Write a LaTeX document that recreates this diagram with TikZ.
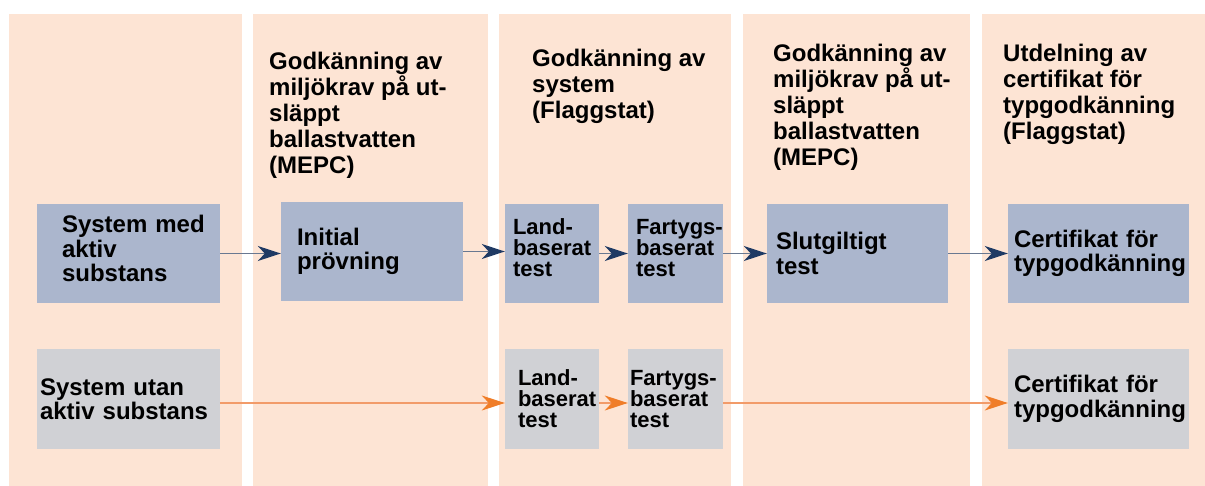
\documentclass[tikz,border=0pt]{standalone}
\usepackage{fontspec}
\setmainfont{Liberation Sans}
\usetikzlibrary{arrows.meta}
\definecolor{peach}{RGB}{253,228,212}
\definecolor{boxblue}{RGB}{171,182,205}
\definecolor{boxgrey}{RGB}{208,209,213}
\definecolor{navy}{RGB}{31,58,100}
\definecolor{navyline}{RGB}{105,120,145}
\definecolor{orangeline}{RGB}{242,155,105}
\definecolor{orangetip}{RGB}{240,125,40}
\begin{document}
\begin{tikzpicture}[x=1pt,y=-1pt,
  lane/.style={fill=peach},
  box/.style={minimum height=99pt,inner ysep=0pt,align=left,
    font=\bfseries\fontsize{24}{24.5}\selectfont},
  smallbox/.style={box,font=\bfseries\fontsize{22}{21}\selectfont},
  head/.style={anchor=north west,inner sep=0pt,align=left,
    font=\bfseries\fontsize{24}{26}\selectfont},
  flowa/.style={draw=navyline,line width=1.2pt,
    -{Stealth[length=23pt,width=15pt,inset=7pt,color=navy]}},
  flowb/.style={draw=orangeline,line width=1.2pt,
    -{Stealth[length=23pt,width=15pt,inset=7pt,color=orangetip]}}]
  \useasboundingbox (0,0) rectangle (1205,486);
  % lanes
  \fill[lane] (9,14) rectangle (242,486);
  \fill[lane] (253,14) rectangle (488,486);
  \fill[lane] (499,14) rectangle (731,486);
  \fill[lane] (743,14) rectangle (970,486);
  \fill[lane] (982,14) rectangle (1205,486);
  % headings
  \node[head] (h2) at (269,51.5) {Godkänning av\\miljökrav på ut-\\släppt\\ballastvatten\\(MEPC)};
  \node[head] (h3) at (532,48.5) {Godkänning av\\system\\(Flaggstat)};
  \node[head] (h4) at (773,43.5) {Godkänning av\\miljökrav på ut-\\släppt\\ballastvatten\\(MEPC)};
  \node[head] (h5) at (1003,43.5) {Utdelning av\\certifikat för\\typgodkänning\\(Flaggstat)};
  % with active substance
  \node[box,fill=boxblue,text width=133pt,inner xsep=25pt,text depth=59pt] (sysmed) at (128.5,253.5) {System~med\\aktiv\\substans};
  \node[box,fill=boxblue,text width=150pt,inner xsep=16pt] (initial) at (372,251.5) {Initial\\prövning};
  \node[smallbox,fill=boxblue,text width=78pt,inner xsep=8pt,text depth=54pt] (landa) at (552,253.5) {\mbox{Land-}\\baserat\\test};
  \node[smallbox,fill=boxblue,text width=79pt,inner xsep=8pt,text depth=54pt] (fartyga) at (675.5,253.5) {\mbox{Fartygs-}\\baserat\\test};
  \node[box,fill=boxblue,text width=163pt,inner xsep=9pt] (slut) at (857.5,253.5) {Slutgiltigt\\test};
  \node[box,fill=boxblue,text width=169pt,inner xsep=6pt] (certa) at (1098.5,253.5) {Certifikat~för\\typgodkänning};
  % without active substance
  \node[box,fill=boxgrey,text width=177pt,inner xsep=3pt] (sysutan) at (128.5,399) {System~utan\\aktiv~substans};
  \node[smallbox,fill=boxgrey,text width=68pt,inner xsep=13pt] (landb) at (552,399) {\mbox{Land-}\\baserat\\test};
  \node[smallbox,fill=boxgrey,text width=91pt,inner xsep=2pt] (fartygb) at (675.5,399) {\mbox{Fartygs-}\\baserat\\test};
  \node[box,fill=boxgrey,text width=169pt,inner xsep=6pt] (certb) at (1098.5,399) {Certifikat~för\\typgodkänning};
  % flows
  \draw[flowa] (sysmed.east) -- (sysmed.east -| initial.west);
  \draw[flowa] (initial.east) -- (initial.east -| landa.west);
  \draw[flowa] (landa.east) -- (fartyga.west);
  \draw[flowa] (fartyga.east) -- (slut.west);
  \draw[flowa] (slut.east) -- (certa.west);
  \draw[flowb] ([yshift=-4pt]sysutan.east) -- ([yshift=-4pt]sysutan.east -| landb.west);
  \draw[flowb] ([yshift=-4pt]landb.east) -- ([yshift=-4pt]fartygb.west);
  \draw[flowb] ([yshift=-4pt]fartygb.east) -- ([yshift=-4pt]certb.west);
\end{tikzpicture}
\end{document}
